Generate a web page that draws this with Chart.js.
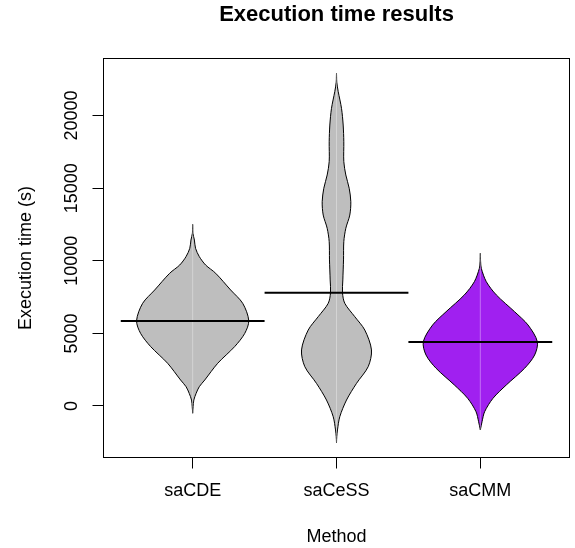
<!DOCTYPE html>
<html>
<head>
<meta charset="utf-8">
<script src="https://cdn.jsdelivr.net/npm/chart.js@4.4.1/dist/chart.umd.min.js"></script>
<style>
  html, body { margin: 0; padding: 0; background: #fff; }
  #wrap { width: 575px; height: 548px; }
</style>
</head>
<body>
<div id="wrap"><canvas id="myChart"></canvas></div>
<script>
// methods on the x axis
var categories = ['saCDE', 'saCeSS', 'saCMM'];
var fillColors = ['#BEBEBE', '#BEBEBE', '#A020F0'];
// mean execution time per method (s)
var means = [5860, 7800, 4410];
var yTicks = [0, 5000, 10000, 15000, 20000];

// violin outlines: execution time (s), bottom to top, and relative density (1 = widest)
var saCDE_time = [-500, -45, 410, 870, 1330, 1790, 2940, 4090, 5000, 5880, 7070, 7990, 9140, 9710, 10290, 10860, 11430, 11890, 12510];
var saCDE_dens = [0, 0.008, 0.02, 0.06, 0.115, 0.21, 0.435, 0.73, 0.905, 0.975, 0.87, 0.66, 0.4, 0.225, 0.115, 0.05, 0.03, 0.005, 0];

var saCeSS_time = [-2530, -2100, -1650, -740, 410, 1560, 2710, 3860, 5230, 6150, 7070, 7800, 8680, 10060, 11320, 12240, 13150, 14070, 14990, 15910, 16830, 18200, 19350, 20500, 21650, 22300, 22910];
var saCeSS_dens = [0, 0.005, 0.017, 0.057, 0.174, 0.348, 0.551, 0.608, 0.492, 0.318, 0.144, 0.104, 0.11, 0.122, 0.127, 0.162, 0.231, 0.249, 0.221, 0.162, 0.127, 0.127, 0.116, 0.087, 0.03, 0.005, 0];

var saCMM_time = [-1650, -1080, -390, 530, 1450, 2600, 3510, 4430, 5580, 6490, 7650, 8560, 9480, 9940, 10520];
var saCMM_dens = [0, 0.03, 0.075, 0.22, 0.452, 0.77, 0.944, 0.991, 0.829, 0.596, 0.278, 0.104, 0.017, 0.005, 0];

var times = [saCDE_time, saCeSS_time, saCMM_time];
var dens = [saCDE_dens, saCeSS_dens, saCMM_dens];

var halfWidth = 0.4;   // widest violin half width, in category units

Chart.defaults.font.family = "'Liberation Sans', Arial, sans-serif";
Chart.defaults.color = '#000';

// closed outline: right side going up, left side coming back down
function outline(pos, t, d) {
    var pts = [];
    for (var i = 0; i < t.length; i++) pts.push({ x: pos + d[i] * halfWidth, y: t[i] });
    for (var j = t.length - 2; j >= 0; j--) pts.push({ x: pos - d[j] * halfWidth, y: t[j] });
    return pts;
}

var datasets = [];
categories.forEach(function (name, i) {
    var pos = i + 1;
    var t = times[i];
    datasets.push({
        label: name,
        data: outline(pos, t, dens[i]),
        showLine: true,
        fill: 'shape',
        backgroundColor: fillColors[i],
        borderColor: '#000',
        borderWidth: 1,
        pointRadius: 0,
        tension: 0.3,
        order: 3
    });
    // faint centre line
    datasets.push({
        data: [{ x: pos, y: t[0] }, { x: pos, y: t[t.length - 1] }],
        showLine: true,
        borderColor: 'rgba(255,255,255,0.35)',
        borderWidth: 1,
        pointRadius: 0,
        order: 2
    });
    // mean line
    datasets.push({
        data: [{ x: pos - 0.5, y: means[i] }, { x: pos + 0.5, y: means[i] }],
        showLine: true,
        borderColor: '#000',
        borderWidth: 2,
        pointRadius: 0,
        order: 1
    });
});

// plot frame like R's box()
var framePlugin = {
    id: 'frame',
    afterDatasetsDraw: function (chart) {
        var a = chart.chartArea;
        var ctx = chart.ctx;
        ctx.save();
        ctx.strokeStyle = '#000';
        ctx.lineWidth = 1;
        ctx.strokeRect(a.left, a.top, a.right - a.left, a.bottom - a.top);
        ctx.restore();
    }
};

var ctx = document.getElementById('myChart').getContext('2d');
var myChart = new Chart(ctx, {
    type: 'scatter',
    data: { datasets: datasets },
    plugins: [framePlugin],
    options: {
        responsive: true,
        maintainAspectRatio: false,
        animation: false,
        layout: { padding: { left: 0, right: 5.5, top: 0, bottom: 0 } },
        plugins: {
            legend: { display: false },
            tooltip: { enabled: false },
            title: {
                display: true,
                text: 'Execution time results',
                fullSize: false,
                color: '#000',
                font: { size: 22, weight: 'bold' },
                padding: { top: 2, bottom: 30.1 }
            }
        },
        scales: {
            x: {
                type: 'linear',
                min: 0.38,
                max: 3.62,
                afterBuildTicks: function (s) {
                    s.ticks = categories.map(function (c, i) { return { value: i + 1 }; });
                },
                afterFit: function (s) { s.height = 90.5; },
                ticks: {
                    autoSkip: false,
                    maxRotation: 0,
                    padding: 12,
                    font: { size: 18 },
                    callback: function (v) { return categories[v - 1]; }
                },
                grid: { drawOnChartArea: false, drawTicks: true, tickLength: 11, color: '#000' },
                border: { display: false },
                title: { display: true, text: 'Method', font: { size: 18 }, padding: { top: 0, bottom: 0.5 } }
            },
            y: {
                type: 'linear',
                min: -3547,
                max: 23932,
                afterBuildTicks: function (s) {
                    s.ticks = yTicks.map(function (v) { return { value: v }; });
                },
                afterFit: function (s) { s.width = 103.5; },
                ticks: {
                    autoSkip: false,
                    minRotation: 90,
                    maxRotation: 90,
                    crossAlign: 'center',
                    padding: -4.5,
                    font: { size: 18 },
                    callback: function (v) { return String(v); }
                },
                grid: { drawOnChartArea: false, drawTicks: true, tickLength: 11, color: '#000' },
                border: { display: false },
                title: { display: true, text: 'Execution time (s)', font: { size: 18 }, padding: { top: 15.5, bottom: 0 } }
            }
        }
    }
});
</script>
</body>
</html>
